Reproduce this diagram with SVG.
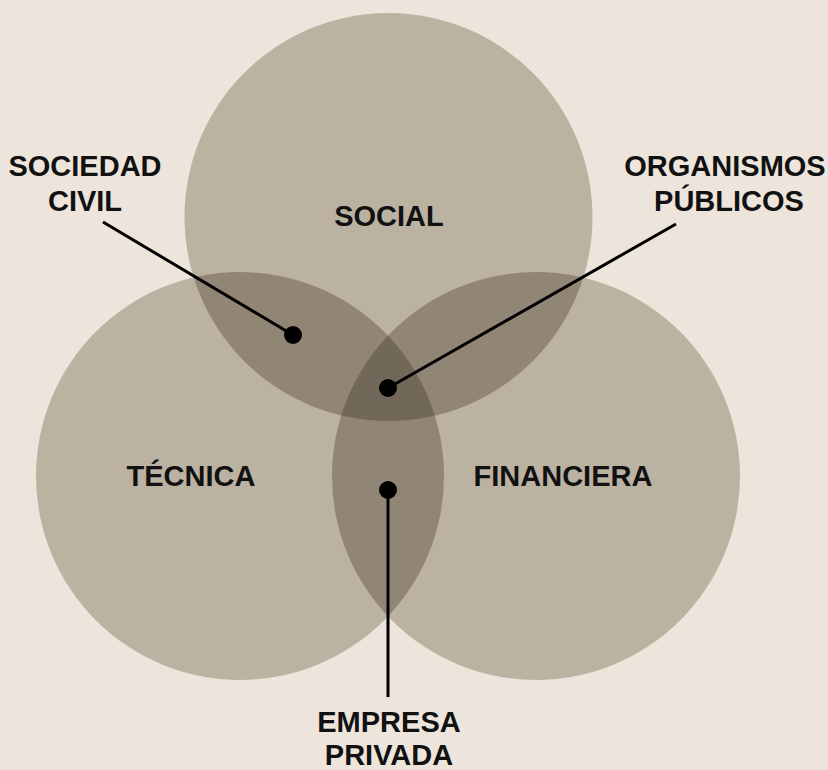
<svg xmlns="http://www.w3.org/2000/svg" width="828" height="770" viewBox="0 0 828 770">
<style>
.c{fill:#BCB2A2}
.d{fill:#918676}
.t{fill:#72685A}
.lab{font-family:"Liberation Sans",Arial,sans-serif;font-weight:bold;font-size:29px;fill:#111;text-anchor:middle}
.ln{stroke:#000;stroke-width:3;fill:none}
</style>
<defs>
<clipPath id="cS"><circle cx="388.5" cy="217" r="204"/></clipPath>
<clipPath id="cT"><circle cx="240" cy="476" r="204"/></clipPath>
<clipPath id="cF"><circle cx="536" cy="476" r="204"/></clipPath>
</defs>
<rect width="828" height="770" fill="#EDE5DB"/>
<g id="social"><circle class="c" cx="388.5" cy="217" r="204"/></g>
<g id="tecnica"><circle class="c" cx="240" cy="476" r="204"/></g>
<g id="financiera"><circle class="c" cx="536" cy="476" r="204"/></g>
<g id="overlaps">
<circle class="d" cx="240" cy="476" r="204" clip-path="url(#cS)"/>
<circle class="d" cx="536" cy="476" r="204" clip-path="url(#cS)"/>
<circle class="d" cx="536" cy="476" r="204" clip-path="url(#cT)"/>
<g clip-path="url(#cS)"><circle class="t" cx="536" cy="476" r="204" clip-path="url(#cT)"/></g>
</g>
<g id="labels-circles">
<text class="lab" x="389" y="226">SOCIAL</text>
<text class="lab" x="191" y="486">TÉCNICA</text>
<text class="lab" x="563" y="486">FINANCIERA</text>
</g>
<g id="connectors">
<line class="ln" x1="103" y1="222" x2="293" y2="335"/>
<line class="ln" x1="676" y1="224" x2="388" y2="388"/>
<line class="ln" x1="388" y1="490" x2="388" y2="697"/>
<circle cx="293" cy="335" r="9"/>
<circle cx="388" cy="388" r="9"/>
<circle cx="388" cy="490" r="9"/>
</g>
<g id="sociedad-civil"><text class="lab" x="85" y="176">SOCIEDAD</text><text class="lab" x="85" y="211">CIVIL</text></g>
<g id="organismos-publicos"><text class="lab" x="725" y="176">ORGANISMOS</text><text class="lab" x="729" y="211">PÚBLICOS</text></g>
<g id="empresa-privada"><text class="lab" x="389" y="732">EMPRESA</text><text class="lab" x="389" y="765">PRIVADA</text></g>
</svg>
